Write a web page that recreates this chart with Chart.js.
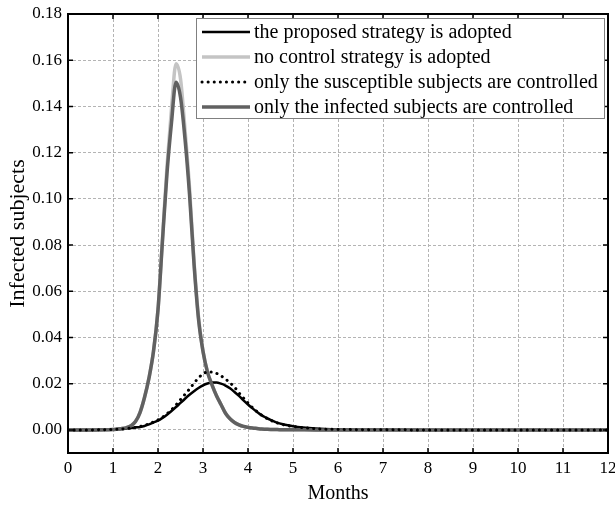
<!DOCTYPE html>
<html>
<head>
<meta charset="utf-8">
<script src="https://cdn.jsdelivr.net/npm/chart.js@4.4.0/dist/chart.umd.min.js"></script>
<style>
  html, body { margin: 0; padding: 0; background: #fff; }
  #wrap { width: 615px; height: 506px; }
</style>
</head>
<body>
<div id="wrap"><canvas id="infectedChart" width="615" height="506"></canvas></div>
<script>
// time axis (months), shared by all series
const months = [0, 0.5, 1.0, 1.1, 1.2, 1.3, 1.4, 1.5, 1.6, 1.7, 1.8, 1.9,
    2.0, 2.1, 2.2, 2.3, 2.4, 2.5, 2.6, 2.7, 2.8, 2.9,
    3.0, 3.1, 3.2, 3.3, 3.4, 3.5, 3.6, 3.7, 3.8, 3.9,
    4.0, 4.1, 4.2, 4.3, 4.4, 4.5, 4.6, 4.7, 4.8, 4.9,
    5.0, 5.5, 6, 7, 8, 9, 10, 11, 12];

// the proposed strategy is adopted
const proposed = [0, 0, 0.0002, 0.0003, 0.0004, 0.0006, 0.0008, 0.0011, 0.0013, 0.0017, 0.0024, 0.0032,
    0.0040, 0.0052, 0.0066, 0.0082, 0.0099, 0.0117, 0.0135, 0.0152, 0.0167, 0.0181,
    0.0193, 0.0201, 0.0205, 0.0205, 0.0200, 0.0192, 0.0180, 0.0164, 0.0147, 0.0128,
    0.0110, 0.0093, 0.0078, 0.0064, 0.0053, 0.0043, 0.0035, 0.0028, 0.0023, 0.0020,
    0.0016, 0.0006, 0.0002, 0.00005, 0, 0, 0, 0, 0];

// no control strategy is adopted
const noControl = [0, 0, 0.0002, 0.0004, 0.0006, 0.0010, 0.0018, 0.0036, 0.0075, 0.0140, 0.0225, 0.0340,
    0.052, 0.083, 0.114, 0.139, 0.1585, 0.152, 0.130, 0.105, 0.073, 0.049,
    0.034, 0.025, 0.0195, 0.0148, 0.0110, 0.0072, 0.0048, 0.0032, 0.0022, 0.0015,
    0.0011, 0.0008, 0.0006, 0.0004, 0.0003, 0.0002, 0.0002, 0.0001, 0.0001, 0.0001,
    0.0001, 0, 0, 0, 0, 0, 0, 0, 0];

// only the susceptible subjects are controlled
const susceptibleOnly = [0, 0, 0.0002, 0.0003, 0.0004, 0.0006, 0.0008, 0.0011, 0.0015, 0.0020, 0.0026, 0.0034,
    0.0043, 0.0055, 0.0070, 0.0087, 0.0108, 0.0131, 0.0154, 0.0177, 0.0202, 0.0225,
    0.0242, 0.0251, 0.0251, 0.0245, 0.0234, 0.0220, 0.0204, 0.0185, 0.0160, 0.0138,
    0.0116, 0.0096, 0.0079, 0.0064, 0.0052, 0.0042, 0.0034, 0.0027, 0.0022, 0.0018,
    0.0015, 0.0005, 0.0002, 0.00005, 0, 0, 0, 0, 0];

// only the infected subjects are controlled
const infectedOnly = [0, 0, 0.0002, 0.0004, 0.0006, 0.0010, 0.0018, 0.0036, 0.0075, 0.0140, 0.0225, 0.0340,
    0.052, 0.082, 0.111, 0.133, 0.1505, 0.144, 0.126, 0.102, 0.072, 0.048,
    0.034, 0.025, 0.0195, 0.0148, 0.0110, 0.0072, 0.0048, 0.0032, 0.0022, 0.0015,
    0.0011, 0.0008, 0.0006, 0.0004, 0.0003, 0.0002, 0.0002, 0.0001, 0.0001, 0.0001,
    0.0001, 0, 0, 0, 0, 0, 0, 0, 0];

const seriesLabels = [
    'the proposed strategy is adopted',
    'no control strategy is adopted',
    'only the susceptible subjects are controlled',
    'only the infected subjects are controlled'
];

const xTickValues = [0, 1, 2, 3, 4, 5, 6, 7, 8, 9, 10, 11, 12];
const yTickValues = [0, 0.02, 0.04, 0.06, 0.08, 0.10, 0.12, 0.14, 0.16, 0.18];

const serif = "'Liberation Serif', 'Times New Roman', serif";

function toPoints(values) {
    return months.map((m, i) => ({ x: m, y: values[i] }));
}

// frame round the plot area with inward ticks on all four sides
const framePlugin = {
    id: 'frame',
    afterDatasetsDraw(chart) {
        const { ctx, chartArea: a, scales } = chart;
        ctx.save();
        ctx.strokeStyle = '#000';
        ctx.lineWidth = 1.5;
        ctx.beginPath();
        xTickValues.forEach(v => {
            const px = scales.x.getPixelForValue(v);
            ctx.moveTo(px, a.bottom); ctx.lineTo(px, a.bottom - 5);
            ctx.moveTo(px, a.top); ctx.lineTo(px, a.top + 5);
        });
        yTickValues.forEach(v => {
            const py = scales.y.getPixelForValue(v);
            ctx.moveTo(a.left, py); ctx.lineTo(a.left + 5, py);
            ctx.moveTo(a.right, py); ctx.lineTo(a.right - 5, py);
        });
        ctx.stroke();
        ctx.lineWidth = 2;
        ctx.strokeRect(a.left, a.top, a.right - a.left, a.bottom - a.top);
        ctx.restore();
    }
};

// boxed legend inside the plot, upper right
const legendBoxPlugin = {
    id: 'legendBox',
    afterDraw(chart) {
        const { ctx } = chart;
        const box = { x: 196, y: 18, w: 408, h: 100 };
        ctx.save();
        ctx.fillStyle = '#fff';
        ctx.fillRect(box.x, box.y, box.w, box.h);
        ctx.strokeStyle = '#808080';
        ctx.lineWidth = 1;
        ctx.strokeRect(box.x + 0.5, box.y + 0.5, box.w, box.h);
        ctx.font = '20px ' + serif;
        ctx.textBaseline = 'middle';
        chart.data.datasets.forEach((ds, i) => {
            const y = 32 + i * 25;
            ctx.save();
            ctx.strokeStyle = ds.borderColor;
            ctx.lineWidth = ds.borderWidth;
            ctx.lineCap = ds.borderCapStyle || 'butt';
            ctx.setLineDash(ds.borderDash || []);
            ctx.beginPath();
            ctx.moveTo(202, y);
            ctx.lineTo(250, y);
            ctx.stroke();
            ctx.restore();
            ctx.fillStyle = '#000';
            ctx.fillText(ds.label, 254, y + 1);
        });
        ctx.restore();
    }
};

function drawChart() {
    const ctx = document.getElementById('infectedChart').getContext('2d');
    new Chart(ctx, {
        type: 'line',
        data: {
            datasets: [{
                label: seriesLabels[0],
                data: toPoints(proposed),
                borderColor: '#000000',
                borderWidth: 2.5,
                order: 2
            }, {
                label: seriesLabels[1],
                data: toPoints(noControl),
                borderColor: '#c4c4c4',
                borderWidth: 3.5,
                order: 3
            }, {
                label: seriesLabels[2],
                data: toPoints(susceptibleOnly),
                borderColor: '#000000',
                borderWidth: 3,
                borderDash: [0.1, 6],
                borderCapStyle: 'round',
                order: 0
            }, {
                label: seriesLabels[3],
                data: toPoints(infectedOnly),
                borderColor: '#616161',
                borderWidth: 3.5,
                order: 1
            }]
        },
        options: {
            responsive: false,
            animation: false,
            devicePixelRatio: 1,
            layout: { padding: { top: 14, right: 7, left: 0, bottom: 0 } },
            elements: {
                point: { radius: 0 },
                line: { cubicInterpolationMode: 'monotone', fill: false }
            },
            plugins: {
                legend: { display: false },
                tooltip: { enabled: false }
            },
            scales: {
                x: {
                    type: 'linear',
                    min: 0,
                    max: 12,
                    afterBuildTicks: scale => { scale.ticks = xTickValues.map(v => ({ value: v })); },
                    afterFit: scale => {
                        scale.height = 53;
                        scale.paddingLeft = 0;
                        scale.paddingRight = 0;
                    },
                    grid: { color: '#b4b4b4', lineWidth: 1, drawTicks: false },
                    border: { display: false, dash: [3, 2] },
                    ticks: {
                        color: '#000',
                        padding: 5,
                        font: { family: serif, size: 17 },
                        callback: v => String(v)
                    },
                    title: {
                        display: true,
                        text: 'Months',
                        color: '#000',
                        font: { family: serif, size: 20 },
                        padding: { top: 0, bottom: 0 }
                    }
                },
                y: {
                    type: 'linear',
                    min: -0.01,
                    max: 0.18,
                    afterBuildTicks: scale => { scale.ticks = yTickValues.map(v => ({ value: v })); },
                    afterFit: scale => {
                        scale.width = 68;
                        scale.paddingTop = 0;
                        scale.paddingBottom = 0;
                    },
                    grid: { color: '#b4b4b4', lineWidth: 1, drawTicks: false },
                    border: { display: false, dash: [3, 2] },
                    ticks: {
                        color: '#000',
                        padding: 6,
                        font: { family: serif, size: 17 },
                        callback: v => v.toFixed(2)
                    },
                    title: {
                        display: true,
                        text: 'Infected subjects',
                        color: '#000',
                        font: { family: serif, size: 22 },
                        padding: { top: 5, bottom: 0 }
                    }
                }
            }
        },
        plugins: [framePlugin, legendBoxPlugin]
    });
}

document.addEventListener('DOMContentLoaded', () => drawChart());
</script>
</body>
</html>
